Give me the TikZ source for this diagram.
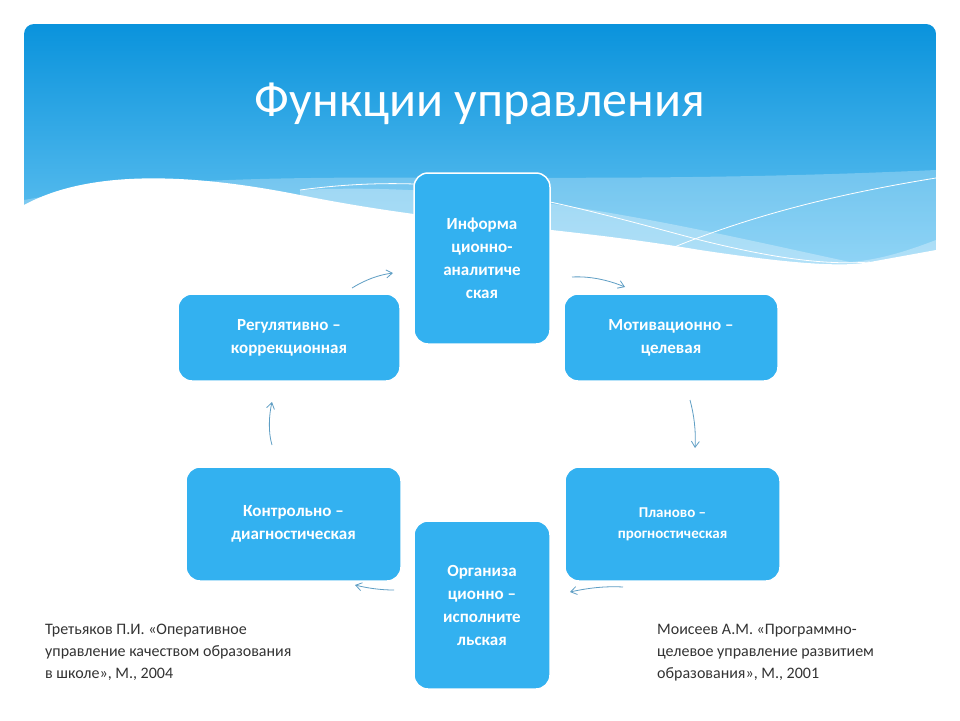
\documentclass[tikz,border=0pt]{standalone}
\usepackage{fontspec}
\setmainfont{Carlito}
\usetikzlibrary{arrows.meta}
\definecolor{boxblue}{HTML}{33B1F0}
\definecolor{topblue}{HTML}{0A93DC}
\definecolor{midblue}{HTML}{6CC7F3}
\definecolor{arr}{HTML}{5E9EC4}
\definecolor{txt}{HTML}{333333}
\tikzset{
  fbox/.style={draw=white,line width=1.5pt,fill=boxblue,rounded corners=14pt,text=white,font=\bfseries\fontsize{17}{23}\selectfont,align=center,inner sep=0pt},
  carr/.style={draw=arr,line width=0.8pt,-{Straight Barb[length=6pt,width=8pt]}},
  ref/.style={text=txt,font=\fontsize{16}{22}\selectfont,align=left,anchor=north west,inner sep=0pt}
}
\begin{document}
\begin{tikzpicture}[x=1pt,y=-1pt]
\useasboundingbox (0,0) rectangle (960,720);
\fill[white] (0,0) rectangle (960,720);
% background
\begin{scope}
\clip[rounded corners=10pt] (24,24) rectangle (936,300);
\shade[top color=topblue,bottom color=midblue] (24,24) rectangle (936,270);
\fill[white,opacity=0.25] (24,200) .. controls (250,160) and (500,190) .. (936,170) -- (936,300) -- (24,300) -- cycle;
\fill[white,opacity=0.3] (300,190) .. controls (500,180) and (700,230) .. (850,262) .. controls (880,260) and (910,250) .. (936,240) -- (936,300) -- (300,300) -- cycle;
\fill[white] (24,205) .. controls (70,180) and (150,165) .. (300,195) .. controls (450,225) and (550,225) .. (700,250) .. controls (780,262) and (840,268) .. (870,262) -- (936,250) -- (936,300) -- (24,300) -- cycle;
\draw[white,line width=0.8pt] (300,190) .. controls (450,170) and (550,200) .. (700,240) .. controls (780,260) and (830,265) .. (870,262);
\draw[white,line width=0.8pt] (590,285) .. controls (700,230) and (800,200) .. (936,178);
\end{scope}
\node[text=white,font=\fontsize{50}{56}\selectfont] (title) at (480,104) {Функции управления};
% boxes
\node[fbox,minimum width=136pt,minimum height=171pt] (info) at (482,258.5) {Информа\\ционно-\\аналитиче\\ская};
\node[fbox,minimum width=222pt,minimum height=87pt] (reg) at (289,337.5) {Регулятивно –\\коррекционная};
\node[fbox,minimum width=214pt,minimum height=87pt] (mot) at (671,337.5) {Мотивационно –\\целевая};
\node[fbox,minimum width=215pt,minimum height=114pt,font=\bfseries\fontsize{15}{21}\selectfont] (plan) at (672.5,524) {Планово –\\прогностическая};
\node[fbox,minimum width=215pt,minimum height=114pt] (ctrl) at (293.5,524) {Контрольно –\\диагностическая};
\node[fbox,minimum width=136pt,minimum height=168pt] (org) at (482,605) {Организа\\ционно –\\исполните\\льская};
% arrows
\coordinate (a1) at (352,288); \coordinate (b1) at (393,273);
\coordinate (a2) at (572,277); \coordinate (b2) at (625,287);
\coordinate (a3) at (690,400); \coordinate (b3) at (695,448);
\coordinate (a4) at (623,587); \coordinate (b4) at (570,592);
\coordinate (a5) at (394,590); \coordinate (b5) at (355,585);
\coordinate (a6) at (272,445); \coordinate (b6) at (272,402);
\draw[carr] (a1) .. controls (365,280) and (378,275) .. (b1);
\draw[carr] (a2) .. controls (590,276) and (608,280) .. (b2);
\draw[carr] (a3) .. controls (694,415) and (696,430) .. (b3);
\draw[carr] (a4) .. controls (605,586) and (588,588) .. (b4);
\draw[carr] (a5) .. controls (380,590) and (367,588) .. (b5);
\draw[carr] (a6) .. controls (268,432) and (269,415) .. (b6);
% references
\node[ref] (r1) at (45,624) {Третьяков П.И. «Оперативное\\управление качеством образования\\в школе», М., 2004};
\node[ref] (r2) at (657,624) {Моисеев А.М. «Программно-\\целевое управление развитием\\образования», М., 2001};
\end{tikzpicture}
\end{document}
